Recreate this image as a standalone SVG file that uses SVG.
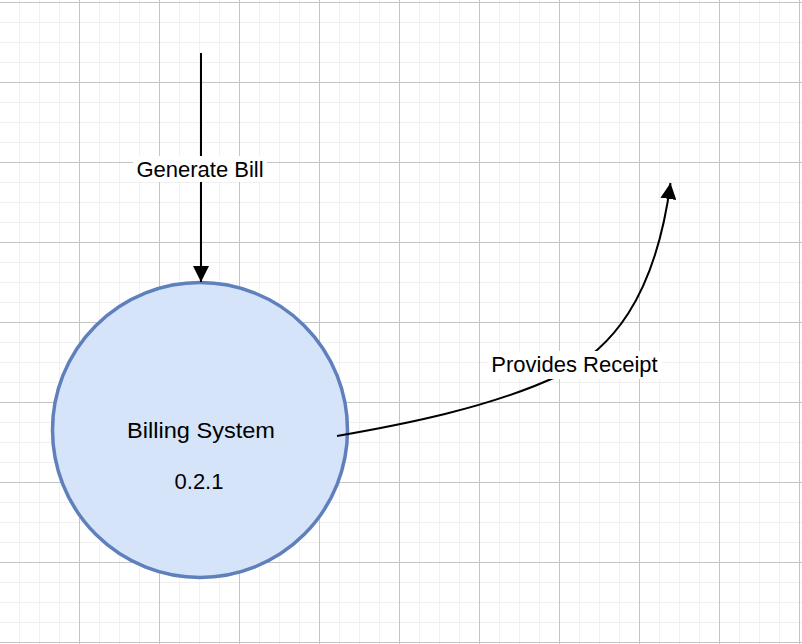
<svg xmlns="http://www.w3.org/2000/svg" width="802" height="644" viewBox="0 0 802 644">
  <style>
    .minor { stroke: #f0f0f0; stroke-width: 1; }
    .major { stroke: #c4c4c4; stroke-width: 1; }
    .edge { fill: none; stroke: #000000; stroke-width: 2; }
    .lbl { font-family: "Liberation Sans", Arial, Helvetica, sans-serif; font-size: 22px; fill: #000000; text-anchor: middle; }
    .lblbg { fill: #ffffff; }
    .proc { fill: #d6e4fa; stroke: #5f80bc; stroke-width: 3.5; }
  </style>
  <defs>
    <pattern id="grid" patternUnits="userSpaceOnUse" x="0" y="2" width="80" height="80">
      <path class="minor" d="M19.5,0V80M39.5,0V80M59.5,0V80M0,20.5H80M0,40.5H80M0,60.5H80"/>
      <path class="major" d="M79.5,0V80M0,0.5H80"/>
    </pattern>
    <marker id="arrow" markerUnits="userSpaceOnUse" markerWidth="16" markerHeight="16" viewBox="0 0 16 16" refX="16" refY="8" orient="auto">
      <path d="M0,0L16,8L0,16Z" fill="#000000"/>
    </marker>
  </defs>
  <rect x="0" y="0" width="802" height="644" fill="#ffffff"/>
  <rect x="0" y="0" width="802" height="644" fill="url(#grid)"/>

  <g id="node-billing-system">
    <circle class="proc" cx="200" cy="430" r="147.5"/>
    <text class="lbl" x="201" y="437.5" textLength="148" lengthAdjust="spacingAndGlyphs">Billing System</text>
    <text class="lbl" x="199" y="489">0.2.1</text>
  </g>

  <g id="connectors">
    <g id="edge-generate-bill">
      <path class="edge" d="M201,53V282" marker-end="url(#arrow)"/>
      <rect class="lblbg" x="133" y="156" width="134" height="26"/>
      <text class="lbl" x="200" y="177">Generate Bill</text>
    </g>
    <g id="edge-provides-receipt">
      <path class="edge" d="M337,436C400,425 490,408 560,375C610,350 655,300 670.5,183" marker-end="url(#arrow)"/>
      <rect class="lblbg" x="488" y="351" width="174" height="28"/>
      <text class="lbl" x="574.5" y="372">Provides Receipt</text>
    </g>
  </g>
</svg>
